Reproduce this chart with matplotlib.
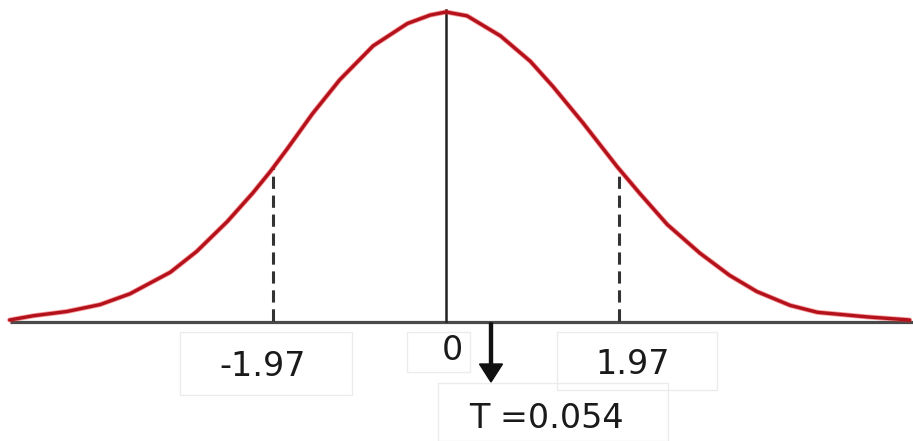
import numpy as np
import matplotlib
matplotlib.use("Agg")
import matplotlib.pyplot as plt
from matplotlib.patches import FancyArrow

# Curve (t value, density)
curve_t = [-4.97, -4.70, -4.32, -3.94, -3.60, -3.14, -2.84, -2.49, -2.20, -2.00,
           -1.81, -1.52, -1.21, -0.83, -0.44, -0.18, 0.00, 0.24, 0.62, 0.96,
           1.22, 1.56, 1.95, 2.21, 2.52, 2.89, 3.23, 3.54, 3.92, 4.23,
           4.80, 5.28]
curve_d = [0.000, 0.0055, 0.011, 0.020, 0.034, 0.062, 0.089, 0.128, 0.165, 0.193,
           0.222, 0.268, 0.312, 0.356, 0.385, 0.396, 0.400, 0.395, 0.369, 0.336,
           0.303, 0.256, 0.199, 0.164, 0.124, 0.087, 0.058, 0.037, 0.019, 0.010,
           0.004, 0.000]
critical = [-1.97, 1.97]
center = 0
crit_labels = ["-1.97", "1.97"]
center_label = "0"
t_label = "T =0.054"

W, H = 913, 441
fig = plt.figure(figsize=(W / 100, H / 100), dpi=100)
ax = fig.add_axes([0, 0, 1, 1])
ax.set_axis_off()

PX0, PXU = 446, 87.8          # pixel of t=0, pixels per unit
PY0, PYU = 320, 308 / 0.4     # baseline pixel, pixels per density unit
def px2x(px):
    return (px - PX0) / PXU
def py2y(py):
    return (PY0 - py) / PYU

ax.set_xlim(px2x(0), px2x(W))
ax.set_ylim(py2y(H), py2y(0))

# baseline
ax.plot([curve_t[0], px2x(W)], [py2y(321.5), py2y(321.5)], color="#4a4a4a",
        lw=2.3, solid_capstyle="butt", zorder=2)
# center vertical line
ax.plot([center, center], [py2y(321), py2y(10)], color="#222222", lw=1.8, zorder=2)
# dashed critical lines
for c in critical:
    top = np.interp(c, curve_t, curve_d)
    ax.plot([c, c], [py2y(321), top], color="#333333", lw=2.2,
            dashes=(4, 2.2), zorder=2)
# curve
ax.plot(curve_t, curve_d, color="#f02020", lw=3.6, alpha=0.45, zorder=3,
        solid_joinstyle="round", solid_capstyle="round")
ax.plot(curve_t, curve_d, color="#b3121c", lw=2.4, zorder=4,
        solid_joinstyle="round", solid_capstyle="round")


def boxed(text, cx, cy, x0, y0, x1, y1):
    ax.add_patch(plt.Rectangle((px2x(x0), py2y(y1)), px2x(x1) - px2x(x0),
                               py2y(y0) - py2y(y1), fill=False, ec="#ececec", lw=1.0))
    ax.text(px2x(cx), py2y(cy), text, ha="center", va="center",
            fontsize=24, color="#1a1a1a", family="DejaVu Sans")

boxed(crit_labels[0], 263, 366, 180, 332, 352, 395)
boxed(center_label, 452, 351, 407, 332, 470, 372)
boxed(crit_labels[1], 633, 364, 557, 332, 717, 390)
boxed(t_label, 546, 418, 438, 383, 668, 441)

# arrow
ax.add_patch(FancyArrow(px2x(491), py2y(323), 0, py2y(382) - py2y(323),
                        width=3 / PXU, head_width=23 / PXU,
                        head_length=(382 - 364) / PYU,
                        length_includes_head=True, color="#111111", zorder=5))

fig.savefig("out.png", dpi=100)
